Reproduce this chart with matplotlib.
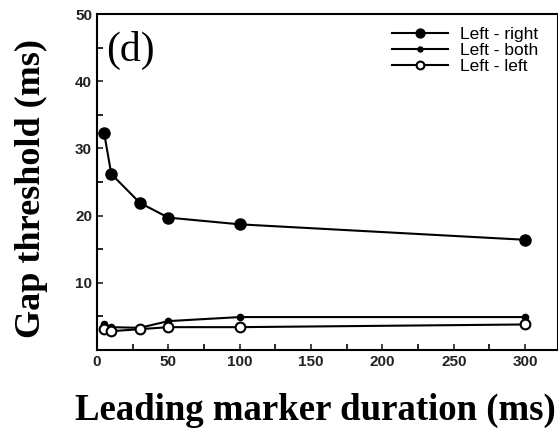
import matplotlib.pyplot as plt
from matplotlib.ticker import MultipleLocator

duration = [5, 10, 30, 50, 100, 300]
left_right = [32.3, 26.2, 21.9, 19.7, 18.7, 16.4]
left_both = [3.9, 3.4, 3.3, 4.3, 4.9, 4.9]
left_left = [3.1, 2.8, 3.1, 3.4, 3.4, 3.8]

fig = plt.figure(figsize=(5.58, 4.34), dpi=100)
ax = fig.add_axes([97 / 558, 84 / 434, 461 / 558, 336 / 434])

ax.plot(duration, left_right, "k-", marker="o", ms=8, lw=1.5, label="Left - right")
ax.plot(duration, left_both, "k-", marker="o", ms=4.5, lw=1.5, label="Left - both")
ax.plot(duration, left_left, "k-", marker="o", ms=7, mfc="white", mew=1.5, lw=1.5,
        label="Left - left")

ax.set_xlim(0, 323)
ax.set_ylim(0, 50)
ax.xaxis.set_major_locator(MultipleLocator(50))
ax.xaxis.set_minor_locator(MultipleLocator(25))
ax.set_yticks([10, 20, 30, 40, 50])
ax.yaxis.set_minor_locator(MultipleLocator(5))
ax.tick_params(which="both", direction="in", length=4, width=1.2)
ax.tick_params(labelsize=11, colors="#222222", labelcolor="#222222")
for lab in ax.get_xticklabels() + ax.get_yticklabels():
    lab.set_fontweight("bold")
    lab.set_family("Liberation Sans")
for s in ax.spines.values():
    s.set_linewidth(1.5)

ax.text(0.02, 0.95, "(d)", transform=ax.transAxes, fontsize=30,
        family="Liberation Serif", va="top")
ax.legend(loc="upper right", bbox_to_anchor=(538 / 558, 1 - 27 / 434),
          bbox_transform=fig.transFigure, frameon=False, handlelength=3.2,
          borderaxespad=0, borderpad=0, labelspacing=0.05, handletextpad=0.7,
          markerscale=0.8, prop={"family": "Liberation Sans", "size": 12.5})

fig.text(0.056, 1 - 189 / 434, "Gap threshold (ms)", rotation=90, ha="center", va="center",
         fontsize=26, fontweight="bold", family="Liberation Serif")
fig.text(315 / 558, 1 - 410 / 434, "Leading marker duration (ms)", ha="center", va="center",
         fontsize=26.5, fontweight="bold", family="Liberation Serif")

fig.savefig("out.png", dpi=100)
